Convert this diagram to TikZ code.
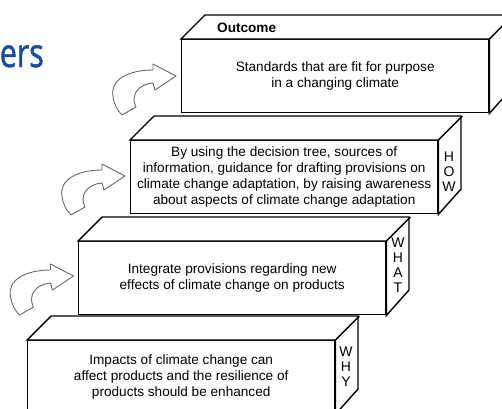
\documentclass[tikz,border=0pt]{standalone}
\usepackage{fontspec}
\setmainfont{Liberation Sans}
\newfontfamily\titlefont[FakeStretch=0.76,FakeBold=1.2]{Open Sans}
\usepackage{tikz}
\definecolor{titleblue}{RGB}{24,74,160}
\definecolor{arrowgray}{RGB}{105,105,105}
\tikzset{
  stepface/.style={draw=black, line width=1.4pt, fill=white, line join=miter},
  stepbox/.style={stepface, minimum width=307pt, minimum height=73pt, inner sep=0pt,
    align=center, anchor=north west, font=\fontsize{13.6}{16}\selectfont},
  sidelabel/.style={align=center, inner sep=0pt, font=\fontsize{14}{15}\selectfont},
  bendarrow/.style={draw=arrowgray, line width=0.9pt, fill=white, line join=round}
}
% top and right face of a step, drawn from the front face node
\newcommand{\stepsides}[1]{%
  \draw[stepface] (#1.north west) -- ++(24,-24) -- ++(307,0) -- ++(0,73)
    -- (#1.south east) -- (#1.north east) -- cycle;
  \draw[stepface] (#1.north east) -- ++(24,-24);
}

\begin{document}
\begin{tikzpicture}[x=1pt,y=-1pt]
 \useasboundingbox (0,0) rectangle (502,408);
 \clip (0,0) rectangle (502,408);

 \node[anchor=base east, text=titleblue, inner sep=0pt,
   font=\titlefont\fontsize{40}{40}\selectfont] (title) at (44,67) {ers};

 % the four steps
 \node[stepbox] (outcome) at (181,39) {Standards that are fit for purpose\\in a changing climate};
 \node[stepbox] (how) at (130,140) {By using the decision tree, sources of\\information, guidance for drafting provisions on\\climate change adaptation, by raising awareness\\about aspects of climate change adaptation};
 \node[stepbox] (what) at (78,241) {Integrate provisions regarding new\\effects of climate change on products};
 \node[stepbox] (why) at (27,340) {Impacts of climate change can\\affect products and the resilience of\\products should be enhanced};
 \foreach \s in {outcome,how,what,why} {\stepsides{\s}}

 % labels on the faces
 \node[anchor=base west, inner sep=0pt, font=\bfseries\fontsize{13.6}{16}\selectfont] (outcomelabel) at (217,32.7) {Outcome};
 \node[sidelabel] (howlabel) at (449,171.5) {H\\O\\W};
 \node[sidelabel] (whatlabel) at (398,265) {W\\H\\A\\T};
 \node[sidelabel] (whylabel) at (346,366.5) {W\\H\\Y};

 % curved arrows up the stairs
 \foreach \tx/\ty in {176/76,125/176,73.5/276} {
  \draw[bendarrow, shift={(\tx,\ty)}] (0,0) -- (-23,-12) -- (-23,-6)
    .. controls (-48,-6) and (-66,4) .. (-63,20)
    .. controls (-62,28) and (-59,34) .. (-54,39) -- (-40,31)
    .. controls (-46,20) and (-38,8) .. (-23,7) -- (-21,14) -- cycle;
 }
\end{tikzpicture}
\end{document}
